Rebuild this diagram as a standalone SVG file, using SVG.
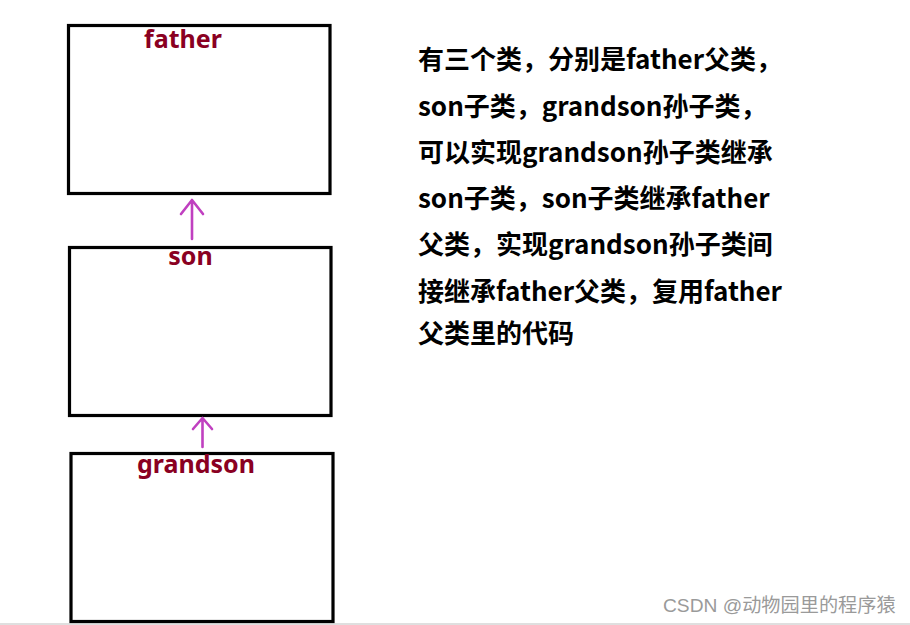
<svg xmlns="http://www.w3.org/2000/svg" width="910" height="625" viewBox="0 0 910 625">
<style>
.box{fill:#fff;stroke:#000;stroke-width:3.2}
.lbl{font-family:"Noto Sans","Open Sans",sans-serif;font-weight:bold;font-size:25px;fill:#8a0022;text-anchor:middle}
.arr{fill:none;stroke:#c040c0;stroke-width:2.6;stroke-linecap:round;stroke-linejoin:round}
.desc{font-family:"Noto Sans CJK SC","Noto Sans",sans-serif;font-weight:bold;font-size:26px;fill:#000}
.wm{font-family:"Liberation Sans","Noto Sans CJK SC",sans-serif;font-size:19.2px;fill:#9a9a9a}
</style>
<rect width="910" height="625" fill="#fff"/>
<line x1="0" y1="624" x2="910" y2="624" stroke="#d4d4d4" stroke-width="1.5"/>
<g id="father">
<rect class="box" x="68.5" y="25.5" width="261.5" height="168"/>
<text class="lbl" x="183" y="48">father</text>
</g>
<g id="son">
<rect class="box" x="69.5" y="247.5" width="261.5" height="168"/>
<text class="lbl" x="190.5" y="265">son</text>
</g>
<g id="grandson">
<rect class="box" x="71" y="453.5" width="262" height="168"/>
<text class="lbl" x="196" y="473">grandson</text>
</g>
<g id="connectors">
<path class="arr" d="M192,239 V200 M181,214 L192,200 L203,214"/>
<path class="arr" d="M202.5,447 V418 M193,429 L202.5,418 L212,429"/>
</g>
<g id="description">
<text class="desc" x="418" y="69">有三个类，分别是father父类，</text>
<text class="desc" x="418" y="116">son子类，grandson孙子类，</text>
<text class="desc" x="418" y="162">可以实现grandson孙子类继承</text>
<text class="desc" x="418" y="208">son子类，son子类继承father</text>
<text class="desc" x="418" y="254">父类，实现grandson孙子类间</text>
<text class="desc" x="418" y="301">接继承father父类，复用father</text>
<text class="desc" x="418" y="343">父类里的代码</text>
</g>
<text class="wm" x="663" y="612">CSDN @动物园里的程序猿</text>
</svg>
